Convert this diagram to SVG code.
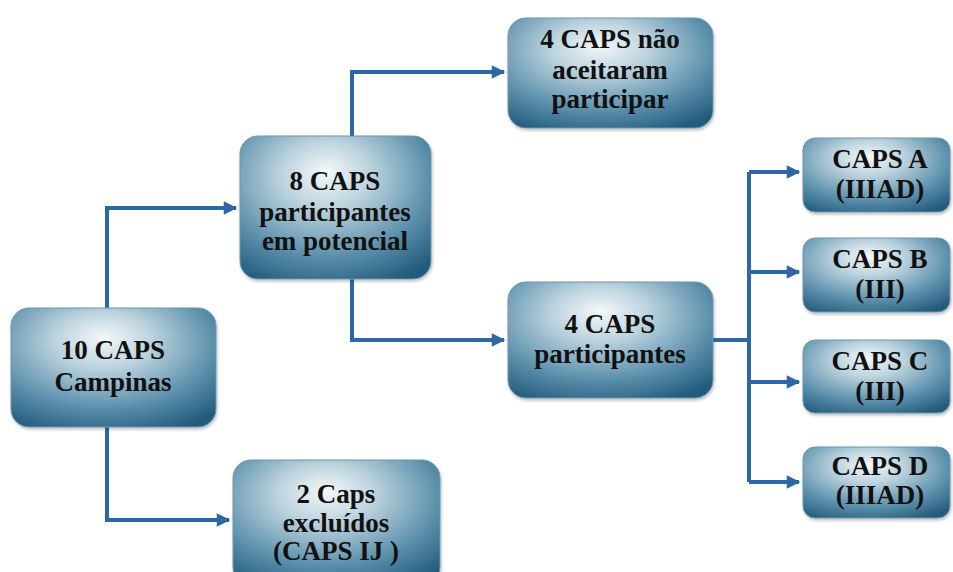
<svg xmlns="http://www.w3.org/2000/svg" width="953" height="572" viewBox="0 0 953 572">
<defs>
<radialGradient id="g" cx="0.45" cy="0.32" r="0.78" fx="0.45" fy="0.25">
<stop offset="0" stop-color="#f4f8fa"/>
<stop offset="0.3" stop-color="#bcd3de"/>
<stop offset="0.7" stop-color="#5a8fab"/>
<stop offset="1" stop-color="#245b7b"/>
</radialGradient>
<filter id="sh" x="-10%" y="-10%" width="125%" height="130%">
<feDropShadow dx="1" dy="2" stdDeviation="1.5" flood-color="#000" flood-opacity="0.25"/>
</filter>
<marker id="ah" viewBox="0 0 10 10" refX="9" refY="5" markerWidth="3.6" markerHeight="3.4" orient="auto" markerUnits="strokeWidth">
<path d="M0,0 L10,5 L0,10 z" fill="#2d67a4"/>
</marker>
</defs>
<style>
.box{fill:url(#g);stroke:#6f97ad;stroke-width:1;filter:url(#sh)}
.t{font-weight:bold;font-size:27px;fill:#111;text-anchor:middle}
.c{fill:none;stroke:#2d67a4;stroke-width:4}
</style>
<rect width="953" height="572" fill="#fff"/>
<g id="connectors">
<polyline class="c" points="107,308 107,208 236,208" marker-end="url(#ah)"/>
<polyline class="c" points="107,427 107,520 229,520" marker-end="url(#ah)"/>
<polyline class="c" points="352,136 352,72 504,72" marker-end="url(#ah)"/>
<polyline class="c" points="352,279 352,340 504,340" marker-end="url(#ah)"/>
<polyline class="c" points="713,340 749,340"/>
<polyline class="c" points="749,172 749,482"/>
<polyline class="c" points="749,172 799,172" marker-end="url(#ah)"/>
<polyline class="c" points="749,272 799,272" marker-end="url(#ah)"/>
<polyline class="c" points="749,382 799,382" marker-end="url(#ah)"/>
<polyline class="c" points="749,482 799,482" marker-end="url(#ah)"/>
</g>
<g id="nodes" font-family="Liberation Serif, Times New Roman, serif">
<g id="n1">
<rect class="box" x="11" y="308" width="205" height="119" rx="18"/>
<text class="t" x="113" y="359">10 CAPS</text>
<text class="t" x="113" y="391">Campinas</text>
</g>
<g id="n2">
<rect class="box" x="240" y="136" width="191" height="143" rx="18"/>
<text class="t" x="335" y="190">8 CAPS</text>
<text class="t" x="335" y="221">participantes</text>
<text class="t" x="335" y="250">em potencial</text>
</g>
<g id="n3">
<rect class="box" x="508" y="18" width="205" height="110" rx="18"/>
<text class="t" x="610" y="48">4 CAPS não</text>
<text class="t" x="610" y="79">aceitaram</text>
<text class="t" x="610" y="108">participar</text>
</g>
<g id="n4">
<rect class="box" x="508" y="282" width="205" height="116" rx="18"/>
<text class="t" x="610" y="333">4 CAPS</text>
<text class="t" x="610" y="363">participantes</text>
</g>
<g id="n5">
<rect class="box" x="233" y="460" width="207" height="125" rx="18"/>
<text class="t" x="336" y="503">2 Caps</text>
<text class="t" x="336" y="532">excluídos</text>
<text class="t" x="336" y="560">(CAPS IJ )</text>
</g>
<g id="nA">
<rect class="box" x="803" y="138" width="147" height="74" rx="12"/>
<text class="t" x="880" y="168">CAPS A</text>
<text class="t" x="880" y="198">(IIIAD)</text>
</g>
<g id="nB">
<rect class="box" x="803" y="238" width="147" height="74" rx="12"/>
<text class="t" x="880" y="268">CAPS B</text>
<text class="t" x="880" y="298">(III)</text>
</g>
<g id="nC">
<rect class="box" x="803" y="340" width="147" height="73" rx="12"/>
<text class="t" x="880" y="370">CAPS C</text>
<text class="t" x="880" y="400">(III)</text>
</g>
<g id="nD">
<rect class="box" x="803" y="447" width="147" height="71" rx="12"/>
<text class="t" x="880" y="475">CAPS D</text>
<text class="t" x="880" y="504">(IIIAD)</text>
</g>
</g>
</svg>
